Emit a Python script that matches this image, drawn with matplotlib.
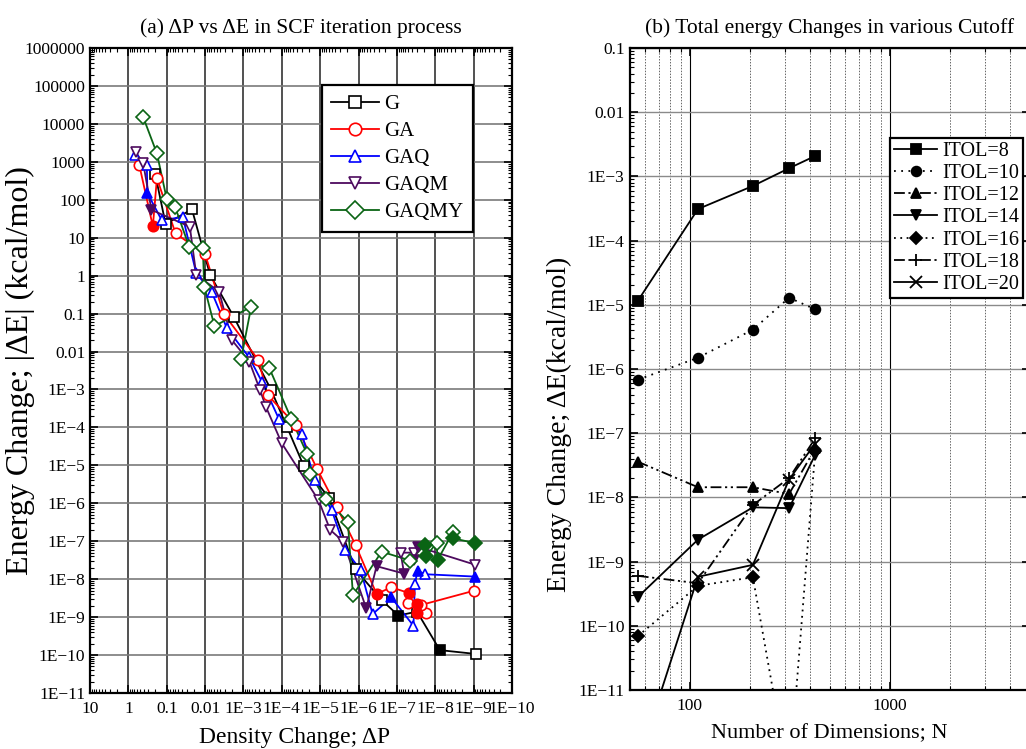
"""
Two-panel log-log figure: (a) dP vs dE during SCF, (b) total energy change vs N.
"""

import numpy as np
import matplotlib.pyplot as plt
from matplotlib.ticker import LogLocator, FixedLocator, FixedFormatter, NullFormatter

plt.rcParams["font.family"] = ["Liberation Serif", "DejaVu Serif"]

# ── Data: panel (a) ──────────────────────────────────────────────────
g_dp = [0.2, 0.107, 0.022, 0.0074, 1.8e-3, 1.9e-4, 7.4e-5, 2.7e-5, 5.9e-6, 1.2e-6,
        2.5e-7, 9.1e-8, 3e-8, 7.6e-9, 8.9e-10]
g_de = [480, 23, 56, 1.05, 0.083, 9.7e-4, 1.05e-4, 9.8e-6, 1.4e-6, 1.8e-8,
        2.8e-9, 1.1e-9, 1.4e-9, 1.35e-10, 1.07e-10]
g_fill = [0, 0, 0, 0, 0, 0, 0, 0, 0, 0, 0, 1, 0, 1, 0]

ga_dp = [0.52, 0.23, 0.18, 0.059, 0.01, 3.3e-3, 4.1e-4, 2.3e-4, 4.3e-5, 1.2e-5,
         3.7e-6, 1.2e-6, 3.4e-7, 1.4e-7, 4.8e-8, 5e-8, 3e-8, 3e-8, 1.7e-8, 2.3e-8, 9.5e-10]
ga_de = [830, 20, 370, 13, 3.7, 0.1, 6e-3, 7e-4, 1.15e-4, 8e-6,
         8.1e-7, 8e-8, 4.1e-9, 6.1e-9, 4.3e-9, 2.3e-9, 2.2e-9, 1.3e-9, 1.26e-9, 2.1e-9, 5e-9]
ga_fill = [0, 1, 0, 0, 0, 0, 0, 0, 0, 0, 0, 0, 1, 0, 1, 0, 1, 1, 0, 0, 0]

gaq_dp = [0.67, 0.33, 0.32, 0.135, 0.038, 0.017, 6.8e-3, 2.7e-3, 7.1e-4, 3.3e-4,
          1.2e-4, 3e-5, 1.4e-5, 5e-6, 2.2e-6, 8.7e-7, 4.3e-7, 1.4e-7, 3.7e-8, 3.4e-8,
          2.9e-8, 1.85e-8, 9.1e-10]
gaq_de = [1500, 830, 150, 29, 35, 1.15, 0.38, 0.041, 7e-3, 1.6e-3,
          1.7e-4, 6.9e-5, 4e-6, 6.6e-7, 5.9e-8, 1.7e-8, 1.2e-9, 3.3e-9, 5.9e-10, 7.4e-9,
          1.67e-8, 1.35e-8, 1.17e-8]
gaq_fill = [0, 0, 1, 0, 0, 0, 0, 0, 0, 0, 0, 0, 0, 0, 0, 0, 0, 1, 0, 0, 1, 0, 1]

gaqm_dp = [0.64, 0.41, 0.25, 0.025, 0.017, 4.3e-3, 2e-3, 7e-4, 3.7e-4, 2.6e-4,
           1e-4, 1.1e-5, 5.5e-6, 2.5e-6, 6.3e-7, 3.4e-7, 6.5e-8, 8e-8, 3.6e-8, 3.6e-8,
           2.9e-8, 9.1e-10]
gaqm_de = [1800, 910, 54, 19.5, 1.05, 0.38, 0.02, 5.4e-3, 9.7e-4, 3.5e-4,
           3.8e-5, 1.2e-6, 2e-7, 9.8e-8, 1.7e-9, 2.2e-8, 1.4e-8, 5e-8, 5e-8, 3.2e-8,
           7.2e-8, 2.4e-8]
gaqm_fill = [0, 0, 1, 0, 0, 0, 0, 0, 0, 0, 0, 0, 0, 0, 1, 1, 1, 0, 0, 1, 1, 0]

gaqmy_dp = [0.41, 0.18, 0.1, 0.06, 0.026, 0.0115, 0.0105, 0.0057, 6.3e-4, 1.15e-3,
            2.1e-4, 5.7e-5, 2.2e-5, 1.8e-5, 7.2e-6, 1.9e-6, 1.4e-6, 2.5e-7, 4.5e-8, 1.9e-8,
            1.7e-8, 9.2e-9, 8.7e-9, 3.5e-9, 3.5e-9, 9.1e-10]
gaqmy_de = [15000, 1660, 105, 63, 5.8, 5.5, 0.51, 0.047, 0.15, 6.3e-3,
            3.6e-3, 1.7e-4, 2e-5, 5.9e-6, 1.26e-6, 3.3e-7, 3.8e-9, 5.3e-8, 3.1e-8, 7.9e-8,
            4.1e-8, 9.1e-8, 3.2e-8, 1.7e-7, 1.2e-7, 8.9e-8]
gaqmy_fill = [0, 0, 0, 0, 0, 0, 0, 0, 0, 0, 0, 0, 0, 0, 0, 0, 0, 0, 0, 1,
              1, 0, 1, 0, 1, 1]

series_a = [
    ("G", g_dp, g_de, g_fill, "black", "s"),
    ("GA", ga_dp, ga_de, ga_fill, "#ff0000", "o"),
    ("GAQ", gaq_dp, gaq_de, gaq_fill, "#0000ff", "^"),
    ("GAQM", gaqm_dp, gaqm_de, gaqm_fill, "#4d0a5e", "v"),
    ("GAQMY", gaqmy_dp, gaqmy_de, gaqmy_fill, "#0a6414", "D"),
]

# ── Data: panel (b) ──────────────────────────────────────────────────
n_dim = [55, 110, 207, 314, 424]
itol8 = [1.15e-5, 3.1e-4, 7.1e-4, 1.34e-3, 2.08e-3]
itol10 = [6.8e-7, 1.5e-6, 4.1e-6, 1.29e-5, 8.5e-6]
itol12 = [3.6e-8, 1.44e-8, 1.44e-8, 1.13e-8, 5.8e-8]
itol14 = [2.8e-10, 2.2e-9, 7.0e-9, 6.8e-9, 4.6e-8]
itol16 = [6.9e-11, 4.2e-10, 5.7e-10, 3.8e-13, 5.2e-8]
itol18 = [6.0e-10, 4.6e-10, 7.6e-9, 2.0e-8, 8.3e-8]
itol20 = [7.1e-13, 5.8e-10, 8.9e-10, 1.9e-8, 6.9e-8]

dashdotdot = (0, (6, 2, 1.2, 2, 1.2, 2))
series_b = [
    ("ITOL=8", itol8, "-", "s", 7),
    ("ITOL=10", itol10, (0, (1, 3)), "o", 7),
    ("ITOL=12", itol12, dashdotdot, "^", 7),
    ("ITOL=14", itol14, "-", "v", 7),
    ("ITOL=16", itol16, (0, (1, 2.5)), "D", 6),
    ("ITOL=18", itol18, dashdotdot, "+", 9),
    ("ITOL=20", itol20, "-", "x", 8),
]

W, H = 1026, 749
fig = plt.figure(figsize=(W / 100, H / 100), dpi=100)

def px_axes(x0, y0, x1, y1):
    return fig.add_axes([x0 / W, 1 - y1 / H, (x1 - x0) / W, (y1 - y0) / H])

def dec_label(e):
    if e >= 0:
        return str(10 ** e)
    if e >= -2:
        return f"{10.0 ** e:g}"
    return f"1E\u2212{-e}"

def style_log_axes(a):
    a.tick_params(which="both", direction="in", top=True, right=True, labelsize=12.5)
    a.tick_params(which="major", length=6, width=1.2)
    a.tick_params(which="minor", length=3, width=0.8)
    a.tick_params(axis="x", pad=6)
    for s in a.spines.values():
        s.set_linewidth(1.6)

# ── Panel (a) ────────────────────────────────────────────────────────
ax = px_axes(90, 48, 512, 693)
ax.set_xscale("log")
ax.set_yscale("log")
ax.set_xlim(10, 1e-10)
ax.set_ylim(1e-11, 1e6)

for name, dp, de, fill, col, mk in series_a:
    dp = np.array(dp)
    de = np.array(de)
    fill = np.array(fill, dtype=bool)
    ax.plot(dp, de, color=col, lw=1.3, zorder=3)
    ax.plot(dp[~fill], de[~fill], ls="none", marker=mk, ms=7.5, mfc="white",
            mec=col, mew=1.2, zorder=4)
    ax.plot(dp[fill], de[fill], ls="none", marker=mk, ms=7.5, mfc=col,
            mec=col, mew=1.2, zorder=4)
    ax.plot([], [], color=col, lw=1.3, marker=mk, ms=9, mfc="white", mec=col,
            mew=1.2, label=name)

xe = list(range(1, -11, -1))
ax.xaxis.set_major_locator(FixedLocator([10.0 ** e for e in xe]))
ax.xaxis.set_major_formatter(FixedFormatter([dec_label(e) for e in xe]))
ye = list(range(-11, 7))
ax.yaxis.set_major_locator(FixedLocator([10.0 ** e for e in ye]))
ax.yaxis.set_major_formatter(FixedFormatter([dec_label(e) for e in ye]))
for a in (ax.xaxis, ax.yaxis):
    a.set_minor_locator(LogLocator(base=10, subs=np.arange(2, 10), numticks=40))
    a.set_minor_formatter(NullFormatter())
style_log_axes(ax)
ax.grid(True, which="major", axis="y", color="#7a7a7a", lw=1.2, zorder=1)
ax.grid(True, which="major", axis="x", color="#333333", lw=1.2, zorder=1)

ax.set_title("(a) \u0394P vs \u0394E in SCF iteration process", fontsize=15.5, pad=11)
ax.set_xlabel("Density Change; \u0394P", fontsize=17)
ax.xaxis.set_label_coords(0.485, -0.052)
ax.set_ylabel("Energy Change; |\u0394E| (kcal/mol)", fontsize=23)
ax.yaxis.set_label_coords(-0.13, 0.50)

leg = ax.legend(loc="upper left", bbox_to_anchor=(322 / W, 1 - 85 / H),
                bbox_transform=fig.transFigure, borderaxespad=0, fontsize=15,
                fancybox=False, framealpha=1, edgecolor="black", handlelength=2.3,
                labelspacing=0.36, borderpad=0.45, handletextpad=0.25)
leg.get_frame().set_linewidth(1.6)

# ── Panel (b) ────────────────────────────────────────────────────────
bx = px_axes(629.5, 48, 1029.5, 690)
bx.set_xscale("log")
bx.set_yscale("log")
bx.set_xlim(50, 5000)
bx.set_ylim(1e-11, 0.1)

for name, vals, ls, mk, ms in series_b:
    bx.plot(n_dim, vals, color="black", lw=1.3, ls=ls, marker=mk, ms=ms,
            mfc="black", mec="black", mew=1.3, label=name, zorder=3)

bx.xaxis.set_major_locator(FixedLocator([100, 1000]))
bx.xaxis.set_major_formatter(FixedFormatter(["100", "1000"]))
bx.xaxis.set_minor_locator(LogLocator(base=10, subs=np.arange(2, 10), numticks=20))
bx.xaxis.set_minor_formatter(NullFormatter())
ye_b = list(range(-11, 0))
bx.yaxis.set_major_locator(FixedLocator([10.0 ** e for e in ye_b]))
bx.yaxis.set_major_formatter(FixedFormatter([dec_label(e) for e in ye_b]))
bx.yaxis.set_minor_locator(LogLocator(base=10, subs=np.arange(2, 10), numticks=40))
bx.yaxis.set_minor_formatter(NullFormatter())
style_log_axes(bx)
bx.grid(True, which="major", axis="y", color="#8a8a8a", lw=1.0, zorder=1)
bx.grid(True, which="major", axis="x", color="black", lw=0.8, zorder=1)
bx.grid(True, which="minor", axis="x", color="#666666", lw=0.7, ls=(0, (1.5, 1.5)), zorder=1)

bx.set_title("(b) Total energy Changes in various Cutoff", fontsize=15.5, pad=11)
bx.set_xlabel("Number of Dimensions; N", fontsize=16)
bx.xaxis.set_label_coords(0.5, -0.053)
bx.set_ylabel("Energy Change; \u0394E(kcal/mol)", fontsize=20)
bx.yaxis.set_label_coords(-0.144, 0.413)

leg_b = bx.legend(loc="upper left", bbox_to_anchor=(890 / W, 1 - 138 / H),
                  bbox_transform=fig.transFigure, borderaxespad=0, fontsize=14.5,
                  fancybox=False, framealpha=1, edgecolor="black", handlelength=2.15,
                  labelspacing=0.15, borderpad=0.2, handletextpad=0.25)
leg_b.get_frame().set_linewidth(1.6)

plt.savefig("out.png", dpi=100)
plt.close()
